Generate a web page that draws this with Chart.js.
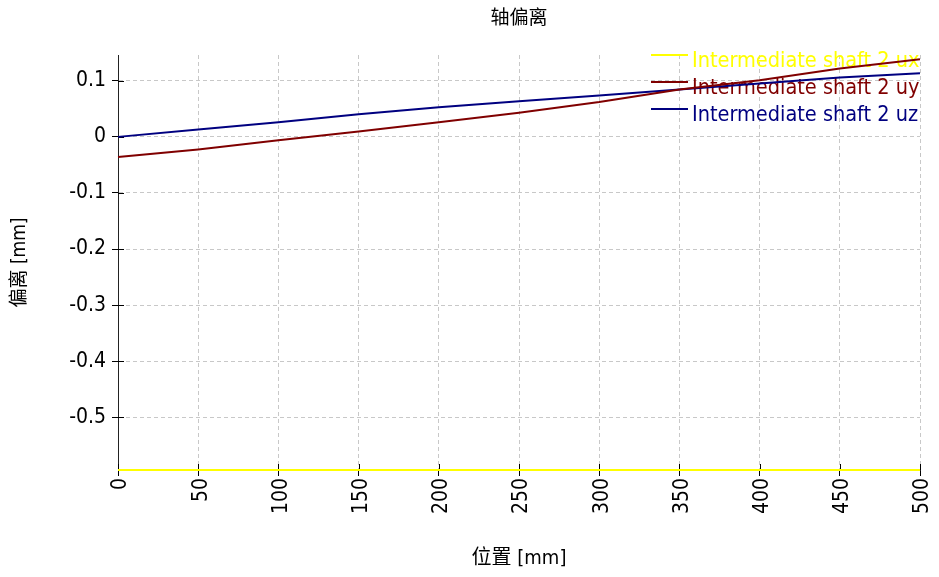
<!DOCTYPE html>
<html>
<head>
<meta charset="utf-8">
<script src="https://cdn.jsdelivr.net/npm/chart.js@4.4.1/dist/chart.umd.min.js"></script>
<style>
  html, body { margin: 0; padding: 0; background: #ffffff; }
  #wrap { width: 939px; height: 577px; }
</style>
</head>
<body>
<div id="wrap"><canvas id="chart" width="939" height="577"></canvas></div>
<script>
// Shaft deflection along the intermediate shaft
const positions = [0, 50, 100, 150, 200, 250, 300, 350, 400, 450, 500];
const uxValues = [-0.594, -0.594, -0.594, -0.594, -0.594, -0.594, -0.594, -0.594, -0.594, -0.594, -0.594];
const uyValues = [-0.036, -0.0225, -0.006, 0.0096, 0.026, 0.043, 0.062, 0.0845, 0.101, 0.122, 0.1385];
const uzValues = [0, 0.013, 0.026, 0.0405, 0.053, 0.0636, 0.074, 0.0845, 0.095, 0.106, 0.1135];
const seriesNames = ['Intermediate shaft 2 ux', 'Intermediate shaft 2 uy', 'Intermediate shaft 2 uz'];
const seriesColors = ['#ffff00', '#800000', '#000080'];
const xTickValues = [0, 50, 100, 150, 200, 250, 300, 350, 400, 450, 500];
const yTickValues = [-0.5, -0.4, -0.3, -0.2, -0.1, 0, 0.1];
const yRange = [-0.594, 0.146];

const chartTitle = '轴偏离';
const xTitle = '位置 [mm]';
const yTitle = '偏离 [mm]';

const latinFont = "'DejaVu Sans Condensed', 'DejaVu Sans', sans-serif";
const cjkFont = "'DejaVu Sans Condensed', 'Noto Sans CJK SC', sans-serif";

Chart.defaults.font.family = latinFont;
Chart.defaults.color = '#000000';

const seriesValues = [uxValues, uyValues, uzValues];
const datasets = seriesValues.map((vals, i) => ({
  label: seriesNames[i],
  data: positions.map((p, k) => ({ x: p, y: vals[k] })),
  borderColor: seriesColors[i],
  backgroundColor: seriesColors[i],
  borderWidth: 2,
  pointRadius: 0,
  tension: 0,
  fill: false,
  clip: false
}));

// Ticks crossing the axis lines a little on the inside
const innerTicks = {
  id: 'innerTicks',
  beforeDatasetsDraw(chart) {
    const { ctx, chartArea, scales } = chart;
    ctx.save();
    ctx.strokeStyle = '#000000';
    ctx.lineWidth = 1;
    ctx.beginPath();
    scales.y.ticks.forEach(t => {
      const py = Math.round(scales.y.getPixelForValue(t.value)) + 0.5;
      ctx.moveTo(chartArea.left, py);
      ctx.lineTo(chartArea.left + 6, py);
    });
    scales.x.ticks.forEach(t => {
      const px = Math.round(scales.x.getPixelForValue(t.value)) + 0.5;
      ctx.moveTo(px, chartArea.bottom);
      ctx.lineTo(px, chartArea.bottom - 6);
    });
    ctx.stroke();
    ctx.restore();
  }
};

// Legend placed inside the top-right corner of the plot
const cornerLegend = {
  id: 'cornerLegend',
  beforeDatasetsDraw(chart) {
    const { ctx, chartArea } = chart;
    ctx.save();
    ctx.font = "21.5px " + latinFont;
    ctx.textBaseline = 'alphabetic';
    ctx.textAlign = 'left';
    const textLeft = chartArea.right - 228;
    chart.data.datasets.forEach((ds, i) => {
      const base = chartArea.top + 12 + i * 27;
      const ly = base - 12;
      ctx.strokeStyle = ds.borderColor;
      ctx.lineWidth = 2;
      ctx.beginPath();
      ctx.moveTo(textLeft - 41, ly);
      ctx.lineTo(textLeft - 4, ly);
      ctx.stroke();
      ctx.fillStyle = ds.borderColor;
      ctx.fillText(ds.label, textLeft, base);
    });
    ctx.restore();
  }
};

new Chart(document.getElementById('chart'), {
  type: 'line',
  data: { datasets },
  plugins: [innerTicks, cornerLegend],
  options: {
    responsive: false,
    animation: false,
    devicePixelRatio: 1,
    layout: { padding: { left: 0, right: 19, top: 0, bottom: 0 } },
    plugins: {
      legend: { display: false },
      tooltip: { enabled: false },
      title: {
        display: true,
        text: chartTitle,
        fullSize: false,
        color: '#000000',
        font: { family: cjkFont, size: 19, weight: 'normal', lineHeight: 1.2 },
        padding: { top: 8, bottom: 24.2 }
      }
    },
    scales: {
      x: {
        type: 'linear',
        min: 0,
        max: 500,
        afterBuildTicks(scale) { scale.ticks = xTickValues.map(v => ({ value: v })); },
        afterFit(scale) {
          scale.height = 107;
          scale.paddingLeft = 0;
          scale.paddingRight = 0;
        },
        ticks: {
          minRotation: 90,
          maxRotation: 90,
          padding: 2,
          labelOffset: 3,
          color: '#000000',
          font: { size: 21 },
          callback: v => String(v)
        },
        grid: {
          color: '#c8c8c8',
          lineWidth: 1,
          tickLength: 6,
          tickColor: '#000000',
          tickBorderDash: [],
          drawTicks: true
        },
        border: { display: true, color: '#222222', width: 1, dash: [4, 3] },
        title: {
          display: true,
          text: xTitle,
          color: '#000000',
          font: { family: cjkFont, size: 20, lineHeight: 1.2 },
          padding: { top: 0, bottom: 6 }
        }
      },
      y: {
        type: 'linear',
        min: yRange[0],
        max: yRange[1],
        afterBuildTicks(scale) { scale.ticks = yTickValues.map(v => ({ value: v })); },
        afterFit(scale) {
          scale.width = 118;
          scale.paddingTop = 0;
          scale.paddingBottom = 0;
        },
        ticks: {
          padding: 6,
          color: '#000000',
          font: { size: 21 },
          callback: v => String(Math.round(v * 10) / 10)
        },
        grid: {
          color: '#c8c8c8',
          lineWidth: 1,
          tickLength: 6,
          tickColor: '#000000',
          tickBorderDash: [],
          drawTicks: true
        },
        border: { display: true, color: '#222222', width: 1, dash: [4, 3] },
        title: {
          display: true,
          text: yTitle,
          color: '#000000',
          font: { family: cjkFont, size: 19, lineHeight: 1.2 },
          padding: { top: 9, bottom: 0 }
        }
      }
    }
  }
});
</script>
</body>
</html>
